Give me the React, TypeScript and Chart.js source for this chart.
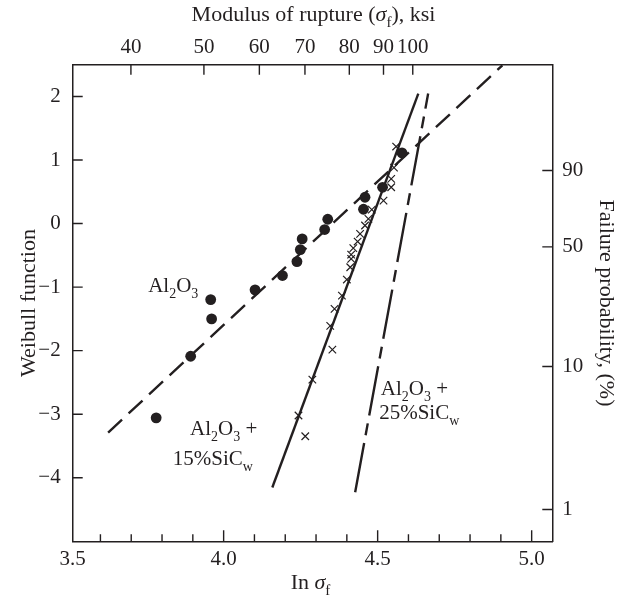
import React, { useEffect, useRef } from "react";
import { Chart, registerables } from "chart.js";

Chart.register(...registerables);

// Al2O3 specimens: ln(sigma_f) and Weibull function
const lnAl2O3 = [3.781, 3.893, 3.961, 3.958, 4.102, 4.191, 4.238, 4.249, 4.255, 4.328, 4.338, 4.454, 4.459, 4.516, 4.579];
const wAl2O3 = [-3.057, -2.088, -1.5, -1.196, -1.043, -0.818, -0.598, -0.409, -0.241, -0.094, 0.068, 0.225, 0.414, 0.571, 1.113];

// Al2O3 + 15% SiC whiskers
const lnSiC15 = [4.56, 4.553, 4.544, 4.544, 4.519, 4.481, 4.47, 4.459, 4.443, 4.435, 4.421, 4.414, 4.414, 4.411, 4.4, 4.384, 4.36, 4.346, 4.353, 4.288, 4.243, 4.265];
const wSiC15 = [1.212, 0.881, 0.703, 0.571, 0.362, 0.22, 0.074, -0.031, -0.162, -0.283, -0.386, -0.488, -0.555, -0.688, -0.881, -1.133, -1.342, -1.61, -1.983, -2.455, -3.021, -3.347];

// Fitted Weibull lines (end points)
const fitAl2O3X = [3.625, 4.905];
const fitAl2O3Y = [-3.289, 2.49];
const fitSiC15X = [4.158, 4.632];
const fitSiC15Y = [-4.154, 2.046];
const fitSiC25X = [4.427, 4.664];
const fitSiC25Y = [-4.228, 2.046];

// Axes
const lnTicks = [3.6, 3.7, 3.8, 3.9, 4.0, 4.1, 4.2, 4.3, 4.4, 4.5, 4.6, 4.7, 4.8, 4.9, 5.0];
const lnMajor = [4.0, 4.5, 5.0];
const weibullTicks = [-4, -3, -2, -1, 0, 1, 2];
const ksiLabels = ["40", "50", "60", "70", "80", "90", "100"];
const ksiTickPos = [3.699, 3.936, 4.116, 4.264, 4.408, 4.519, 4.614];
const probLabels = ["90", "50", "10", "1"];
const probTickPos = [0.834, -0.367, -2.25, -4.5];

const X_MIN = 3.51;
const X_MAX = 5.067;
const Y_MIN = -5;
const Y_MAX = 2.5;

const INK = "#231f20";
const FAMILY = "'Liberation Serif', 'Times New Roman', serif";
const SIZE = 21;
const TITLE_SIZE = 22;

type Run = { t: string; sub?: boolean; it?: boolean };

function richWidth(ctx: CanvasRenderingContext2D, runs: Run[], size: number) {
  let w = 0;
  for (const r of runs) {
    const s = r.sub ? Math.round(size * 0.68) : size;
    ctx.font = `${r.it ? "italic " : ""}${s}px ${FAMILY}`;
    w += ctx.measureText(r.t).width;
  }
  return w;
}

function drawRich(
  ctx: CanvasRenderingContext2D,
  runs: Run[],
  x: number,
  y: number,
  align: "left" | "center",
  size = SIZE
) {
  const total = richWidth(ctx, runs, size);
  let cx = align === "center" ? x - total / 2 : x;
  ctx.textAlign = "left";
  ctx.textBaseline = "alphabetic";
  ctx.fillStyle = INK;
  for (const r of runs) {
    const s = r.sub ? Math.round(size * 0.68) : size;
    ctx.font = `${r.it ? "italic " : ""}${s}px ${FAMILY}`;
    ctx.fillText(r.t, cx, y + (r.sub ? size * 0.27 : 0));
    cx += ctx.measureText(r.t).width;
  }
}

const al2o3: Run[] = [{ t: "Al" }, { t: "2", sub: true }, { t: "O" }, { t: "3", sub: true }];
const al2o3Plus: Run[] = [...al2o3, { t: " +" }];
const sic15: Run[] = [{ t: "15%SiC" }, { t: "w", sub: true }];
const sic25: Run[] = [{ t: "25%SiC" }, { t: "w", sub: true }];

const frameDecor = {
  id: "frameDecor",
  afterDraw(chart: Chart) {
    const ctx = chart.ctx;
    const { left, right, top, bottom } = chart.chartArea;
    const sx = chart.scales.x;
    const sy = chart.scales.y;
    ctx.save();
    ctx.strokeStyle = INK;
    ctx.lineWidth = 1.4;
    ctx.beginPath();
    for (const v of lnTicks) {
      const px = sx.getPixelForValue(v);
      const len = lnMajor.some((m) => Math.abs(m - v) < 1e-9) ? 11 : 7;
      ctx.moveTo(px, bottom);
      ctx.lineTo(px, bottom - len);
    }
    for (const v of ksiTickPos) {
      const px = sx.getPixelForValue(v);
      ctx.moveTo(px, top);
      ctx.lineTo(px, top + 10);
    }
    for (const v of weibullTicks) {
      const py = sy.getPixelForValue(v);
      ctx.moveTo(left, py);
      ctx.lineTo(left + 10, py);
    }
    for (const v of probTickPos) {
      const py = sy.getPixelForValue(v);
      ctx.moveTo(right, py);
      ctx.lineTo(right - 10, py);
    }
    ctx.stroke();

    // axis titles
    drawRich(ctx, [{ t: "Modulus of rupture (" }, { t: "σ", it: true }, { t: "f", sub: true }, { t: "), ksi" }], (left + right) / 2 + 1, 21, "center", TITLE_SIZE);
    drawRich(ctx, [{ t: "In " }, { t: "σ", it: true }, { t: "f", sub: true }], (left + right) / 2 - 2, 589, "center", TITLE_SIZE);

    ctx.save();
    ctx.translate(35, (top + bottom) / 2);
    ctx.rotate(-Math.PI / 2);
    drawRich(ctx, [{ t: "Weibull function" }], 0, 0, "center", TITLE_SIZE);
    ctx.restore();

    ctx.save();
    ctx.translate(600, (top + bottom) / 2);
    ctx.rotate(Math.PI / 2);
    drawRich(ctx, [{ t: "Failure probability, (%)" }], 0, 0, "center", TITLE_SIZE);
    ctx.restore();

    // series labels
    const px = (v: number) => sx.getPixelForValue(v);
    const py = (v: number) => sy.getPixelForValue(v);
    drawRich(ctx, al2o3, px(3.755), py(-1.08), "left");
    drawRich(ctx, al2o3Plus, px(4.0), py(-3.33), "center");
    drawRich(ctx, sic15, px(3.965), py(-3.8), "center");
    drawRich(ctx, al2o3Plus, px(4.51), py(-2.7), "left");
    drawRich(ctx, sic25, px(4.505), py(-3.08), "left");
    ctx.restore();
  },
};

const pts = (xs: number[], ys: number[]) => xs.map((x, i) => ({ x, y: ys[i] }));

export default function App() {
  const ref = useRef<HTMLCanvasElement | null>(null);

  useEffect(() => {
    if (!ref.current) return;
    const tickFont = { family: FAMILY, size: SIZE };
    const chart = new Chart(ref.current, {
      type: "scatter",
      data: {
        datasets: [
          {
            label: "Al2O3",
            data: pts(lnAl2O3, wAl2O3),
            pointStyle: "circle",
            pointRadius: 5.4,
            backgroundColor: INK,
            borderColor: INK,
            borderWidth: 0,
            order: 1,
          },
          {
            label: "Al2O3 + 15%SiCw",
            data: pts(lnSiC15, wSiC15),
            pointStyle: "crossRot",
            pointRadius: 5.3,
            borderColor: INK,
            borderWidth: 1.2,
            order: 2,
          },
          {
            label: "Al2O3 fit",
            data: pts(fitAl2O3X, fitAl2O3Y),
            showLine: true,
            pointRadius: 0,
            borderColor: INK,
            borderWidth: 2.4,
            borderDash: [19, 9],
            order: 3,
          },
          {
            label: "Al2O3 + 15%SiCw fit",
            data: pts(fitSiC15X, fitSiC15Y),
            showLine: true,
            pointRadius: 0,
            borderColor: INK,
            borderWidth: 2.4,
            order: 4,
          },
          {
            label: "Al2O3 + 25%SiCw fit",
            data: pts(fitSiC25X, fitSiC25Y),
            showLine: true,
            pointRadius: 0,
            borderColor: INK,
            borderWidth: 2.4,
            borderDash: [50, 8, 12, 8],
            order: 5,
          },
        ],
      },
      options: {
        animation: false,
        responsive: false,
        maintainAspectRatio: false,
        events: [],
        layout: { padding: 0 },
        plugins: { legend: { display: false }, tooltip: { enabled: false } },
        scales: {
          x: {
            type: "linear",
            position: "bottom",
            min: X_MIN,
            max: X_MAX,
            afterBuildTicks: (s: any) => {
              s.ticks = [X_MIN, ...lnTicks].map((value) => ({ value }));
            },
            afterFit: (s: any) => {
              s.height = 60.7;
            },
            ticks: {
              autoSkip: false,
              maxRotation: 0,
              padding: 6,
              color: INK,
              font: tickFont,
              callback: (v: any) => {
                const n = Number(v);
                if (Math.abs(n - X_MIN) < 1e-9) return "3.5";
                return lnMajor.some((m) => Math.abs(m - n) < 1e-9) ? n.toFixed(1) : "";
              },
            },
            grid: { display: false, drawTicks: false },
            border: { display: true, color: INK, width: 1.5 },
          },
          x2: {
            type: "linear",
            position: "top",
            min: X_MIN,
            max: X_MAX,
            afterBuildTicks: (s: any) => {
              s.ticks = ksiTickPos.map((value) => ({ value }));
            },
            afterFit: (s: any) => {
              s.height = 64.7;
            },
            ticks: {
              autoSkip: false,
              maxRotation: 0,
              padding: 5,
              color: INK,
              font: tickFont,
              callback: (_v: any, i: number) => ksiLabels[i],
            },
            grid: { display: false, drawTicks: false },
            border: { display: true, color: INK, width: 1.5 },
          },
          y: {
            type: "linear",
            position: "left",
            min: Y_MIN,
            max: Y_MAX,
            afterBuildTicks: (s: any) => {
              s.ticks = weibullTicks.map((value) => ({ value }));
            },
            afterFit: (s: any) => {
              s.width = 72.7;
            },
            ticks: {
              autoSkip: false,
              padding: 12,
              color: INK,
              font: tickFont,
              callback: (v: any) => {
                const n = Number(v);
                return n < 0 ? "\u2212" + Math.abs(n) : String(n);
              },
            },
            grid: { display: false, drawTicks: false },
            border: { display: true, color: INK, width: 1.5 },
          },
          y2: {
            type: "linear",
            position: "right",
            min: Y_MIN,
            max: Y_MAX,
            afterBuildTicks: (s: any) => {
              s.ticks = probTickPos.map((value) => ({ value }));
            },
            afterFit: (s: any) => {
              s.width = 69.7;
            },
            ticks: {
              autoSkip: false,
              padding: 10,
              color: INK,
              font: tickFont,
              callback: (_v: any, i: number) => probLabels[i],
            },
            grid: { display: false, drawTicks: false },
            border: { display: true, color: INK, width: 1.5 },
          },
        },
      },
      plugins: [frameDecor],
    });
    return () => chart.destroy();
  }, []);

  return (
    <div style={{ position: "absolute", left: 0, top: 0, width: 622, height: 602, background: "#fff" }}>
      <canvas ref={ref} width={622} height={602} style={{ width: 622, height: 602, display: "block" }} />
    </div>
  );
}
